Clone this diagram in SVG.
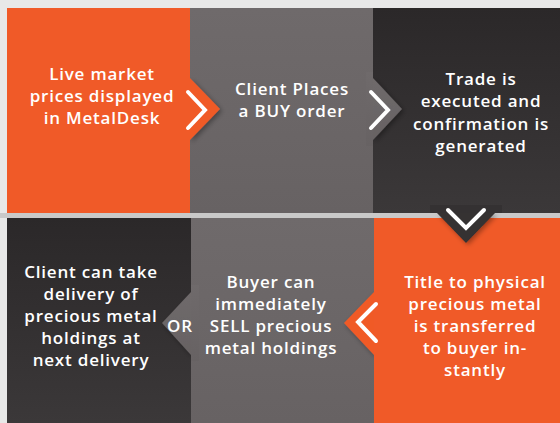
<svg xmlns="http://www.w3.org/2000/svg" width="560" height="423" viewBox="0 0 560 423">
<defs>
<linearGradient id="gGray" x1="0" y1="0" x2="0" y2="1">
<stop offset="0" stop-color="#6f6a6b"/><stop offset="1" stop-color="#676263"/>
</linearGradient>
<linearGradient id="gDark" x1="0" y1="0" x2="0" y2="1">
<stop offset="0" stop-color="#2b2829"/><stop offset="1" stop-color="#3b3839"/>
</linearGradient>
<filter id="sh" x="-30%" y="-30%" width="160%" height="160%">
<feDropShadow dx="2" dy="2" stdDeviation="2.5" flood-color="#000" flood-opacity="0.35"/>
</filter>
</defs>
<style>
.orange{fill:#f05a28}
.gray{fill:url(#gGray)}
.dark{fill:url(#gDark)}
.t{font-family:"Open Sans","Liberation Sans",sans-serif;font-weight:600;font-size:17px;letter-spacing:0.8px;fill:#ffffff;text-anchor:middle}
.chev{fill:none;stroke:#ffffff;stroke-width:4;stroke-linecap:round;stroke-linejoin:miter}
</style>
<rect x="0" y="0" width="560" height="423" fill="#e8e8e8"/>
<rect x="0" y="213" width="560" height="5" fill="#c9c9c9"/>

<g id="node6">
<rect class="dark" x="7" y="218" width="184" height="205"/>
<text class="t" x="91" y="278">Client can take</text>
<text class="t" x="91" y="300">delivery of</text>
<text class="t" x="91" y="322">precious metal</text>
<text class="t" x="91" y="344">holdings at</text>
<text class="t" x="91" y="366">next delivery</text>
</g>

<g id="node5">
<rect class="gray" x="191" y="218" width="183" height="205"/>
<polygon class="gray" points="191,292 162,323 191,355" filter="url(#sh)"/>
<rect class="gray" x="191" y="285" width="8" height="76"/>
<text class="t" x="271" y="288">Buyer can</text>
<text class="t" x="271" y="310">immediately</text>
<text class="t" x="271" y="332">SELL precious</text>
<text class="t" x="271" y="354">metal holdings</text>
</g>

<g id="node4">
<rect class="orange" x="374" y="218" width="186" height="205"/>
<polygon class="orange" points="374,292 344,323 374,355" filter="url(#sh)"/>
<rect class="orange" x="374" y="285" width="8" height="76"/>
<text class="t" x="475" y="288">Title to physical</text>
<text class="t" x="475" y="310">precious metal</text>
<text class="t" x="475" y="332">is transferred</text>
<text class="t" x="475" y="354">to buyer in-</text>
<text class="t" x="475" y="376">stantly</text>
</g>

<g id="node3">
<rect class="dark" x="373" y="8" width="187" height="205"/>
<polygon fill="#343132" points="437,213 495,213 466,243" filter="url(#sh)"/>
<rect fill="#343132" x="430" y="205" width="72" height="8"/>
<text class="t" x="481" y="85">Trade is</text>
<text class="t" x="481" y="107">executed and</text>
<text class="t" x="481" y="130">confirmation is</text>
<text class="t" x="481" y="152">generated</text>
</g>

<g id="node2">
<rect class="gray" x="190" y="8" width="183" height="205"/>
<polygon class="gray" points="373,78 402,109 373,140" filter="url(#sh)"/>
<rect class="gray" x="366" y="72" width="7" height="74"/>
<text class="t" x="292" y="95">Client Places</text>
<text class="t" x="292" y="117">a BUY order</text>
</g>

<g id="node1">
<rect class="orange" x="7" y="8" width="183" height="205"/>
<polygon class="orange" points="190,78 220,109 190,140" filter="url(#sh)"/>
<rect class="orange" x="183" y="72" width="7" height="74"/>
<text class="t" x="102" y="80">Live market</text>
<text class="t" x="102" y="102">prices displayed</text>
<text class="t" x="102" y="124">in MetalDesk</text>
</g>

<g id="connectors">
<polyline class="chev" points="188,92 205,110 188,128"/>
<polyline class="chev" points="371,92 388,110 371,128"/>
<polyline class="chev" points="448,210 466,228 484,210"/>
<polyline class="chev" points="376,304 358,322 376,341"/>
<text class="t" x="180" y="332">OR</text>
</g>
</svg>
